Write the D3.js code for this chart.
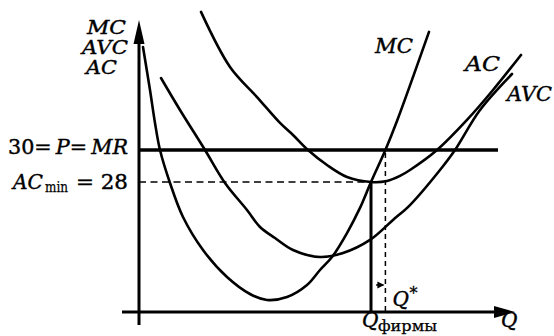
<!DOCTYPE html>
<html>
<head>
<meta charset="utf-8">
<script src="https://cdn.jsdelivr.net/npm/d3@7"></script>
<style>
  html, body { margin: 0; padding: 0; background: #fff; }
  svg { display: block; }
</style>
</head>
<body>
<svg id="chart" width="554" height="336"></svg>
<script>
// ---- data (schematic cost curves; Q in abstract units, cost in price units) ----
const mcQ  = [0.10, 0.275, 0.40, 0.525, 0.775, 1.10, 1.60, 2.20, 2.775, 3.20, 3.70, 4.20, 4.525, 4.825, 5.20, 5.525, 5.80, 6.16, 6.45, 7.25];
const mcC  = [36.44, 33.75, 31.69, 30.00, 27.94, 25.81, 23.75, 22.06, 21.00, 20.63, 20.81, 21.56, 22.50, 23.31, 24.81, 26.38, 28.00, 30.00, 31.81, 37.38];

const avcQ = [0.55, 1.025, 1.65, 2.15, 2.70, 3.025, 3.40, 3.85, 4.525, 5.10, 5.775, 6.35, 6.775, 7.525, 7.90, 8.525, 9.325];
const avcC = [34.50, 32.50, 30.00, 27.94, 26.25, 25.19, 24.50, 23.75, 23.31, 23.56, 24.38, 25.63, 26.56, 28.75, 30.00, 32.50, 34.75];

const acQ  = [1.55, 2.275, 2.95, 3.525, 3.85, 4.225, 4.70, 5.20, 5.80, 6.20, 6.525, 6.775, 7.45, 8.20, 8.85, 9.55];
const acC  = [38.63, 35.19, 33.31, 31.69, 30.94, 30.00, 29.06, 28.31, 28.00, 28.06, 28.38, 28.75, 30.00, 31.88, 33.75, 35.94];

const priceLevel = 30;   // P = MR
const acMinLevel = 28;   // AC min
const qFirm = 5.80;      // Q фирмы
const qStar = 6.16;      // Q*
const qAxisMin = -0.425, qAxisMax = 9.4;
const costAxisMin = 19.875, costAxisMax = 38.125;
const priceLineEndQ = 8.975;

const yAxisTitles = ["MC", "AVC", "AC"];
const curveNames = ["MC", "AC", "AVC"];

const FONT = "'DejaVu Serif', serif";

// ---- scales ----
const svg = d3.select("#chart").attr("font-family", FONT);
const x = d3.scaleLinear().domain([0, 9.4]).range([139, 515]);
const y = d3.scaleLinear().domain([costAxisMin, costAxisMax]).range([312, 20]);

const line = d3.line().x(d => x(d[0])).y(d => y(d[1])).curve(d3.curveCatmullRom.alpha(0.5));
const zip = (a, b) => a.map((v, i) => [v, b[i]]);

// ---- axes ----
svg.append("line").attr("x1", x(0)).attr("x2", x(0))
  .attr("y1", y(costAxisMin) + 13).attr("y2", y(costAxisMax) + 18)
  .attr("stroke", "#000").attr("stroke-width", 3);
svg.append("path")
  .attr("d", `M${x(0)},${y(costAxisMax)} L${x(0) - 5.5},${y(costAxisMax) + 24} L${x(0) + 5.5},${y(costAxisMax) + 24} Z`)
  .attr("fill", "#000");
svg.append("line").attr("x1", x(qAxisMin)).attr("x2", x(qAxisMax) - 16)
  .attr("y1", y(costAxisMin)).attr("y2", y(costAxisMin))
  .attr("stroke", "#000").attr("stroke-width", 3);
svg.append("path")
  .attr("d", `M${x(qAxisMax)},${y(costAxisMin)} L${x(qAxisMax) - 21},${y(costAxisMin) - 6} L${x(qAxisMax) - 21},${y(costAxisMin) + 6} Z`)
  .attr("fill", "#000");

// ---- guide lines ----
svg.append("line").attr("x1", x(0)).attr("x2", x(priceLineEndQ))
  .attr("y1", y(priceLevel)).attr("y2", y(priceLevel))
  .attr("stroke", "#000").attr("stroke-width", 3.5);
svg.append("line").attr("x1", x(0)).attr("x2", x(qFirm))
  .attr("y1", y(acMinLevel)).attr("y2", y(acMinLevel))
  .attr("stroke", "#000").attr("stroke-width", 1.6).attr("stroke-dasharray", "7,4.5");
svg.append("line").attr("x1", x(qFirm)).attr("x2", x(qFirm))
  .attr("y1", y(acMinLevel)).attr("y2", y(costAxisMin))
  .attr("stroke", "#000").attr("stroke-width", 3);
svg.append("line").attr("x1", x(qStar)).attr("x2", x(qStar))
  .attr("y1", y(priceLevel) + 3).attr("y2", y(costAxisMin))
  .attr("stroke", "#000").attr("stroke-width", 1.5).attr("stroke-dasharray", "5,4");
const ay = y(costAxisMin) - 27;
svg.append("line").attr("x1", x(qFirm) + 5).attr("x2", x(qStar) - 2)
  .attr("y1", ay).attr("y2", ay).attr("stroke", "#000").attr("stroke-width", 1.4);
svg.append("path")
  .attr("d", `M${x(qStar) - 1},${ay} L${x(qStar) - 8},${ay - 3.5} L${x(qStar) - 8},${ay + 3.5} Z`)
  .attr("fill", "#000");

// ---- curves ----
[[mcQ, mcC], [avcQ, avcC], [acQ, acC]].forEach(([q, c]) => {
  svg.append("path").attr("d", line(zip(q, c)))
    .attr("fill", "none").attr("stroke", "#000").attr("stroke-width", 2.6)
    .attr("stroke-linecap", "round");
});

// ---- labels ----
const ital = sel => sel.attr("font-style", "italic").attr("stroke", "#000").attr("stroke-width", 0.4);

const yTitlePos = [[87, 34, 39], [82, 54, 46], [86, 74, 31]];
yAxisTitles.forEach((t, i) => {
  svg.append("text").attr("x", yTitlePos[i][0]).attr("y", yTitlePos[i][1])
    .attr("font-size", 19).attr("textLength", yTitlePos[i][2]).attr("lengthAdjust", "spacingAndGlyphs")
    .call(ital).text(t);
});

{
  const t = svg.append("text").attr("x", 8).attr("y", y(priceLevel) + 4)
    .attr("font-size", 20).attr("textLength", 120).attr("lengthAdjust", "spacingAndGlyphs")
    .attr("stroke", "#000").attr("stroke-width", 0.4);
  t.append("tspan").text(String(priceLevel) + "=\u2009");
  t.append("tspan").attr("font-style", "italic").text("P");
  t.append("tspan").text("=\u2009");
  t.append("tspan").attr("font-style", "italic").text("MR");
}
{
  const by = y(acMinLevel) + 7;
  svg.append("text").attr("x", 13).attr("y", by).attr("font-size", 20)
    .attr("textLength", 30).attr("lengthAdjust", "spacingAndGlyphs").call(ital).text("AC");
  svg.append("text").attr("x", 45).attr("y", by + 3).attr("font-size", 14)
    .attr("textLength", 23).attr("lengthAdjust", "spacingAndGlyphs")
    .attr("stroke", "#000").attr("stroke-width", 0.25).text("min");
  svg.append("text").attr("x", 76).attr("y", by).attr("font-size", 20)
    .attr("textLength", 52).attr("lengthAdjust", "spacingAndGlyphs")
    .attr("stroke", "#000").attr("stroke-width", 0.4).text("= " + acMinLevel);
}

const curveLabelPos = [[375, 53, 38], [465, 71, 35], [507, 101, 45]];
curveNames.forEach((t, i) => {
  svg.append("text").attr("x", curveLabelPos[i][0]).attr("y", curveLabelPos[i][1])
    .attr("font-size", 20).attr("textLength", curveLabelPos[i][2]).attr("lengthAdjust", "spacingAndGlyphs")
    .call(ital).text(t);
});

svg.append("text").attr("x", x(qStar) + 7).attr("y", 306).attr("font-size", 20).call(ital).text("Q");
svg.append("text").attr("x", x(qStar) + 24).attr("y", 299).attr("font-size", 16)
  .attr("stroke", "#000").attr("stroke-width", 0.3).text("*");
svg.append("text").attr("x", x(qFirm) - 9).attr("y", 327).attr("font-size", 20).call(ital).text("Q");
svg.append("text").attr("x", x(qFirm) + 7).attr("y", 331).attr("font-size", 14)
  .attr("textLength", 59).attr("lengthAdjust", "spacingAndGlyphs")
  .attr("stroke", "#000").attr("stroke-width", 0.25).text("фирмы");
svg.append("text").attr("x", 501).attr("y", 327).attr("font-size", 20).call(ital).text("Q");
</script>
</body>
</html>
